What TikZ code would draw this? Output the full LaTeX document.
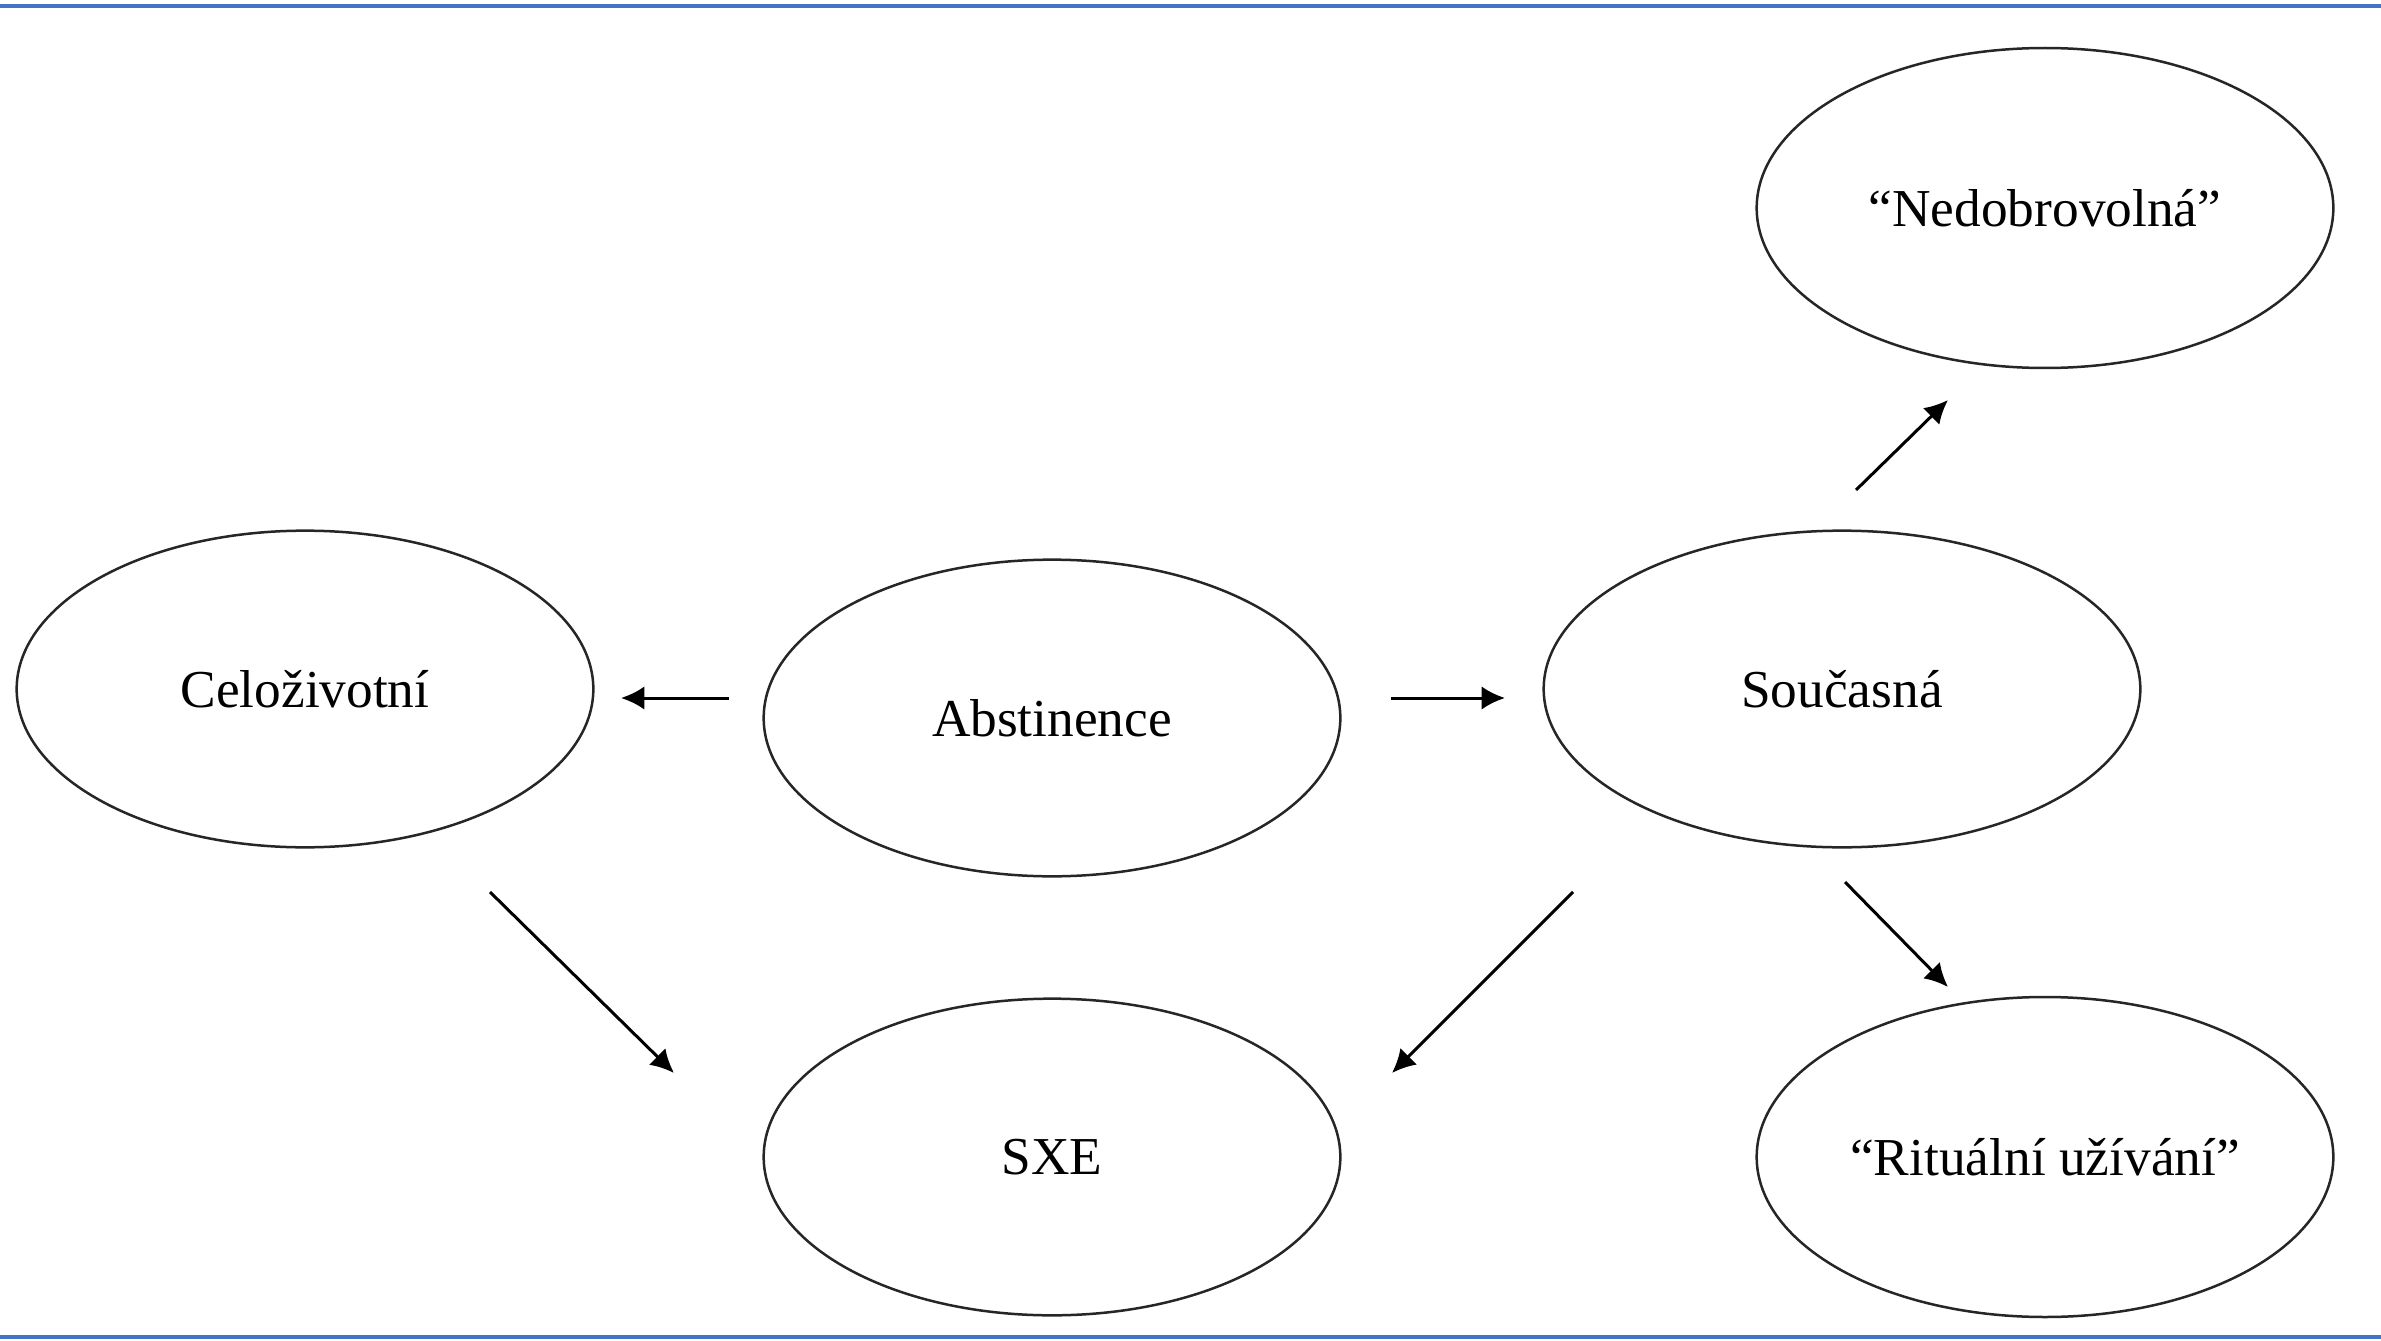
\documentclass[tikz,border=0pt]{standalone}
\usepackage{fontspec}
\setmainfont{Liberation Serif}
\usetikzlibrary{shapes.geometric,arrows.meta}
\definecolor{rule}{HTML}{4472C4}
\tikzset{
  oval/.style={ellipse, draw=black!85, line width=0.75pt, inner sep=0pt,
    font=\fontsize{16}{19}\selectfont},
  arr/.style={line width=0.9pt, -{Latex[length=7pt,width=7pt]}},
}
\begin{document}
\begin{tikzpicture}[x=0.3pt,y=-0.3pt]
\useasboundingbox (0,0) rectangle (2381,1341);
\fill[white] (0,0) rectangle (2381,1341);
\draw[rule, line width=1.2pt] (0,6) -- (2381,6);
\draw[rule, line width=1.2pt] (0,1337) -- (2381,1337);

\node[oval, minimum width=173pt, minimum height=95pt] (cel) at (305,689) {Celoživotní};
\node[oval, minimum width=173pt, minimum height=95pt] (abs) at (1052,718) {Abstinence};
\node[oval, minimum width=179pt, minimum height=95pt] (sou) at (1842,689) {Současná};
\node[oval, minimum width=173pt, minimum height=96pt] (ned) at (2045,208) {“Nedobrovolná”};
\node[oval, minimum width=173pt, minimum height=95pt] (sxe) at (1052,1157) {SXE};
\node[oval, minimum width=173pt, minimum height=96pt] (rit) at (2045,1157) {“Rituální užívání”};

\coordinate (a1s) at (729,698);  \coordinate (a1e) at (621,698);
\coordinate (a2s) at (1391,698); \coordinate (a2e) at (1505,698);
\coordinate (a3s) at (1856,490); \coordinate (a3e) at (1948,400);
\coordinate (a4s) at (1845,882); \coordinate (a4e) at (1948,987);
\coordinate (a5s) at (1573,892); \coordinate (a5e) at (1392,1073);
\coordinate (a6s) at (490,892);  \coordinate (a6e) at (674,1073);

\draw[arr] (a1s) -- (a1e);
\draw[arr] (a2s) -- (a2e);
\draw[arr] (a3s) -- (a3e);
\draw[arr] (a4s) -- (a4e);
\draw[arr] (a5s) -- (a5e);
\draw[arr] (a6s) -- (a6e);
\end{tikzpicture}
\end{document}
